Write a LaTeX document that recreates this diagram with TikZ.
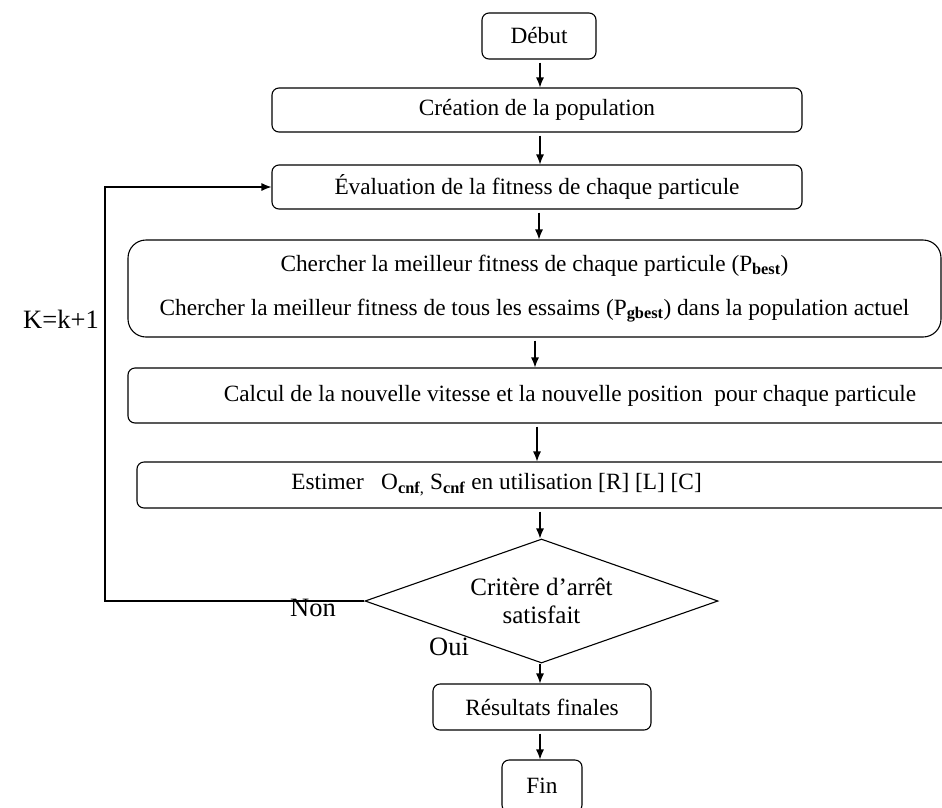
\documentclass[tikz,border=0pt]{standalone}
\usepackage{fontspec}
\setmainfont{Liberation Serif}
\usetikzlibrary{shapes.geometric,arrows.meta}
\begin{document}
\begin{tikzpicture}[x=1pt,y=-1pt,
  box/.style={draw, line width=1.1pt, rounded corners=7pt, inner sep=0pt, font=\fontsize{23.3}{27}\selectfont},
  arr/.style={line width=1.1pt, -{Latex[length=10pt,width=8pt]}, shorten <=3pt},
  lbl/.style={font=\fontsize{26.5}{30}\selectfont, inner sep=0pt}]
\useasboundingbox (0,0) rectangle (942,807);
\clip (0,0) rectangle (942,807);

\node[box, minimum width=114pt, minimum height=46pt] (deb) at (539,36) {Début};
\node[box, minimum width=530pt, minimum height=44pt] (cre) at (537,110) {Création de la population};
\node[box, minimum width=530pt, minimum height=44pt] (eva) at (537,187) {Évaluation de la fitness de chaque particule};
\node[box, rounded corners=18pt, minimum width=813pt, minimum height=97pt, align=center] (che) at (534.5,288.5)
  {Chercher la meilleur fitness de chaque particule (P\textsubscript{\textbf{best}})\\[17pt]
   Chercher la meilleur fitness de tous les essaims (P\textsubscript{\textbf{gbest}}) dans la population actuel};
\node[box, minimum width=832pt, minimum height=55pt] (cal) at (544,395.5)
  {\hspace*{52pt}Calcul de la nouvelle vitesse et la nouvelle position\ \ pour chaque particule};
\node[box, minimum width=823pt, minimum height=46pt] (est) at (548.5,485)
  {Estimer\ \ \ O\textsubscript{\textbf{cnf},} S\textsubscript{\textbf{cnf}} en utilisation [R] [L] [C]\hspace*{104pt}};
\node[draw, diamond, aspect=2.85, line width=1.1pt, minimum width=353pt, minimum height=124pt, inner sep=0pt, align=center,
  font=\fontsize{25}{28}\selectfont] (dia) at (541.5,601) {Critère d’arrêt\\[0pt] satisfait};
\node[box, minimum width=218pt, minimum height=46pt] (res) at (542,707) {Résultats finales};
\node[box, minimum width=80pt, minimum height=52pt] (fin) at (542,786) {Fin};

\node[lbl] (non) at (313,608) {Non};
\node[lbl] (oui) at (449,647) {Oui};
\node[lbl] (kk) at (61,319) {K=k+1};

\coordinate (x540) at (540,0);
\coordinate (x539) at (539,0);
\coordinate (x537) at (537,0);
\coordinate (x535) at (535,0);
\coordinate (lp) at (105,601);

\draw[arr] (deb.south -| x540) -- (cre.north -| x540);
\draw[arr] (cre.south -| x540) -- (eva.north -| x540);
\draw[arr] (eva.south -| x539) -- (che.north -| x539);
\draw[arr] (che.south -| x535) -- (cal.north -| x535);
\draw[arr] (cal.south -| x537) -- (est.north -| x537);
\draw[arr] (est.south -| x540) -- (dia.north -| x540);
\draw[arr, shorten <=0pt] (dia.south -| x540) -- (res.north -| x540);
\draw[arr] (res.south -| x540) -- (fin.north -| x540);
\draw[arr, shorten <=0pt] (dia.west) -- (lp) |- (eva.west);
\end{tikzpicture}
\end{document}
